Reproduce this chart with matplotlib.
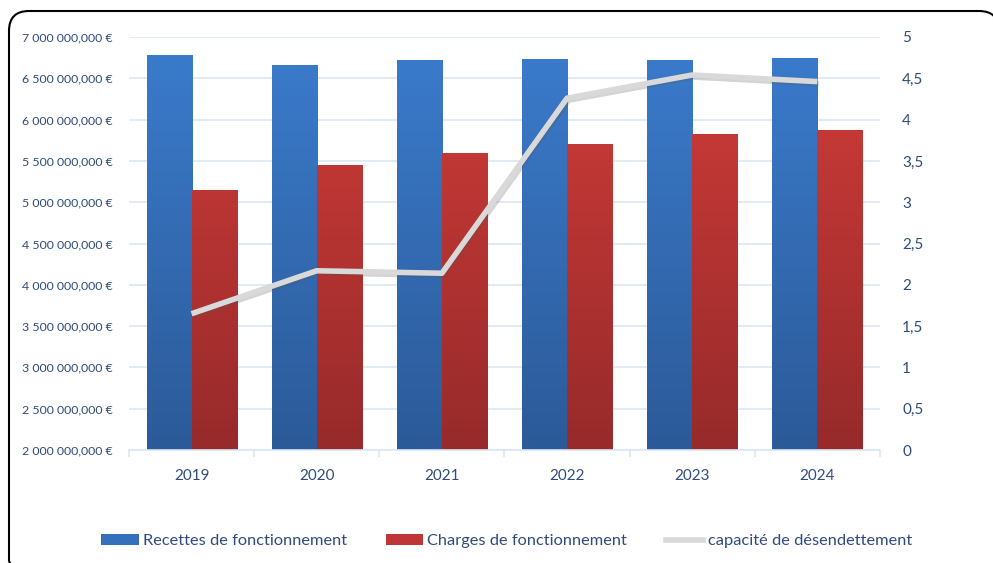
import numpy as np
import matplotlib
matplotlib.use("Agg")
import matplotlib.pyplot as plt
from matplotlib.patches import Patch
from matplotlib.lines import Line2D
from matplotlib.path import Path
from matplotlib.patches import PathPatch
import matplotlib.patheffects as pe
from matplotlib.colors import LinearSegmentedColormap

plt.rcParams['font.family'] = ['Lato', 'DejaVu Sans']

years = ['2019', '2020', '2021', '2022', '2023', '2024']
recettes = [6.78e9, 6.66e9, 6.72e9, 6.73e9, 6.72e9, 6.745e9]
charges = [5.15e9, 5.45e9, 5.60e9, 5.70e9, 5.82e9, 5.88e9]
capacite = [1.65, 2.17, 2.14, 4.26, 4.54, 4.46]

left_ticks = [2e9, 2.5e9, 3e9, 3.5e9, 4e9, 4.5e9, 5e9, 5.5e9, 6e9, 6.5e9, 7e9]
left_labels = ['2 000 000,000 €', '2 500 000,000 €', '3 000 000,000 €', '3 500 000,000 €',
               '4 000 000,000 €', '4 500 000,000 €', '5 000 000,000 €', '5 500 000,000 €',
               '6 000 000,000 €', '6 500 000,000 €', '7 000 000,000 €']
right_ticks = [0, 0.5, 1, 1.5, 2, 2.5, 3, 3.5, 4, 4.5, 5]
right_labels = ['0', '0,5', '1', '1,5', '2', '2,5', '3', '3,5', '4', '4,5', '5']

TXT = '#2f4b7c'
GRID = '#dce7f5'

W, H = 993, 563
fig = plt.figure(figsize=(W/100, H/100), dpi=100)

# open frame: left side, top, corners (pixel coords, top-left origin), converted to figure fraction
def P(px, py):
    return (px / W, 1 - py / H)
r = 20
fx0, fx1, ft, fb = 9, 999, 11, 577
verts = [P(fx0 + 8, fb), P(fx0, fb - 16), P(fx0, fb - r),
         P(fx0, ft + r), P(fx0, ft), P(fx0 + r, ft),
         P(fx1 - r, ft), P(fx1, ft), P(fx1, ft + r),
         P(fx1, fb)]
codes = [Path.MOVETO, Path.LINETO, Path.LINETO,
         Path.LINETO, Path.CURVE3, Path.CURVE3,
         Path.LINETO, Path.CURVE3, Path.CURVE3,
         Path.LINETO]
frame = PathPatch(Path(verts, codes), transform=fig.transFigure, fill=False,
                  edgecolor='black', lw=1.5)
fig.patches.append(frame)

ax = fig.add_axes([129/W, 1 - 450/H, 751/W, 413/H])
ax.set_xlim(-0.5, 5.5)
ax.set_ylim(2e9, 7e9)

x = np.arange(len(years))
w = 0.36
b1 = ax.bar(x - w/2, [r_ - 2e9 for r_ in recettes], w, bottom=2e9, color='#3570bd', zorder=2)
b2 = ax.bar(x + w/2, [c - 2e9 for c in charges], w, bottom=2e9, color='#b83333', zorder=2)

blue_cm = LinearSegmentedColormap.from_list('b', ['#2c5a98', '#3b7ccd'])
red_cm = LinearSegmentedColormap.from_list('r', ['#972a2b', '#d13d39'])
grad = np.linspace(0, 1, 256).reshape(-1, 1)
for bars, cm in ((b1, blue_cm), (b2, red_cm)):
    for p in bars:
        x0 = p.get_x()
        x1 = x0 + p.get_width()
        im = ax.imshow(grad, extent=[x0, x1, 2e9, 7e9], origin='lower', cmap=cm,
                       aspect='auto', zorder=2.1, interpolation='bilinear')
        im.set_clip_path(p)
ax.set_xlim(-0.5, 5.5)
ax.set_ylim(2e9, 7e9)

ax.set_yticks(left_ticks)
ax.set_yticklabels(left_labels)
ax.set_xticks(x)
ax.set_xticklabels(years)
ax.set_xticks(np.arange(-0.5, 6, 1), minor=True)
ax.grid(axis='y', color=GRID, lw=1.2, zorder=0)
ax.set_axisbelow(True)
for s in ['top', 'left', 'right']:
    ax.spines[s].set_visible(False)
ax.spines['bottom'].set_color(GRID)
ax.spines['bottom'].set_linewidth(1.2)
ax.tick_params(axis='y', length=0, pad=12, labelsize=8.9, labelcolor=TXT)
ax.tick_params(axis='x', which='major', length=0, pad=14, labelsize=11, labelcolor=TXT)
ax.tick_params(axis='x', which='minor', length=5, color=GRID, width=1.2)

ax2 = ax.twinx()
ax2.set_ylim(0, 5)
ax2.set_yticks(right_ticks)
ax2.set_yticklabels(right_labels)
for s in ['top', 'left', 'right', 'bottom']:
    ax2.spines[s].set_visible(False)
ax2.tick_params(axis='y', length=0, pad=16, labelsize=11, labelcolor=TXT)
ax2.plot(x, capacite, color='#d9d9d9', lw=4, solid_capstyle='butt', zorder=5,
         path_effects=[pe.SimpleLineShadow(offset=(1, -1.5), alpha=0.25, shadow_color='#555555'),
                       pe.Normal()])

handles = [Patch(facecolor='#3570bd', edgecolor='none'),
           Patch(facecolor='#c03535', edgecolor='none'),
           Line2D([0], [0], color='#d9d9d9', lw=4)]
labels = ['Recettes de fonctionnement', 'Charges de fonctionnement', 'capacité de désendettement']
leg = fig.legend(handles, labels, loc='center', bbox_to_anchor=(506.5/W, 1 - 541/H), ncol=3,
                 frameon=False, fontsize=11.8, handlelength=2.3, handleheight=0.7,
                 handletextpad=0.25, columnspacing=2.35)
for t in leg.get_texts():
    t.set_color(TXT)

fig.savefig('out.png', dpi=100)
